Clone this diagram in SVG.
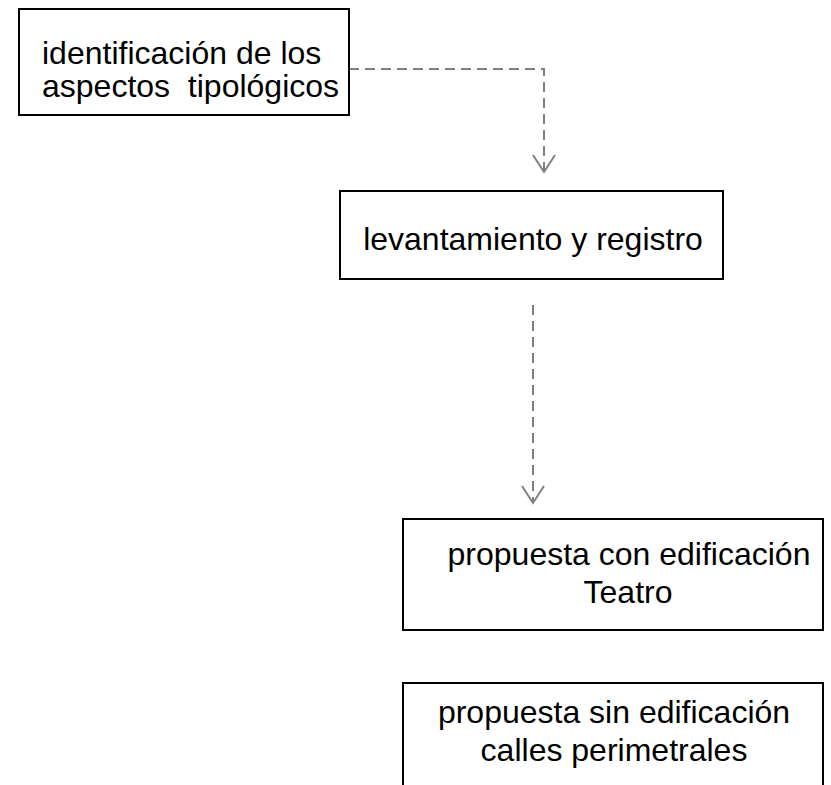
<svg xmlns="http://www.w3.org/2000/svg" width="831" height="785" viewBox="0 0 831 785">
<defs>
<style>
.box{fill:#fff;stroke:#000;stroke-width:2}
.t{font-family:"Liberation Sans",Arial,sans-serif;font-size:32px;fill:#000}
.c{fill:none;stroke:#808080;stroke-width:2;stroke-dasharray:10 6}
</style>
<marker id="ah" viewBox="0 0 22 26" refX="19" refY="13" markerWidth="22" markerHeight="26" markerUnits="userSpaceOnUse" orient="auto">
<path d="M2 2 L19 13 L2 24" fill="none" stroke="#808080" stroke-width="2"/>
</marker>
</defs>
<rect width="831" height="785" fill="#fff"/>
<g id="connectors">
<path class="c" d="M349 69 H544 V172" marker-end="url(#ah)"/>
<path class="c" d="M533 305 V503" marker-end="url(#ah)"/>
</g>
<g id="n1">
<rect class="box" x="19" y="9" width="330" height="106"/>
<text class="t" x="42" y="64">identificación de los</text>
<text class="t" x="42" y="97" xml:space="preserve">aspectos  tipológicos</text>
</g>
<g id="n2">
<rect class="box" x="340" y="191" width="383" height="88"/>
<text class="t" x="533" y="250" text-anchor="middle">levantamiento y registro</text>
</g>
<g id="n3">
<rect class="box" x="403" y="519" width="420" height="111"/>
<text class="t" x="629" y="565" text-anchor="middle">propuesta con edificación</text>
<text class="t" x="628" y="603" text-anchor="middle">Teatro</text>
</g>
<g id="n4">
<rect class="box" x="403" y="683" width="420" height="130"/>
<text class="t" x="614" y="723" text-anchor="middle">propuesta sin edificación</text>
<text class="t" x="614" y="761" text-anchor="middle">calles perimetrales</text>
</g>
</svg>
